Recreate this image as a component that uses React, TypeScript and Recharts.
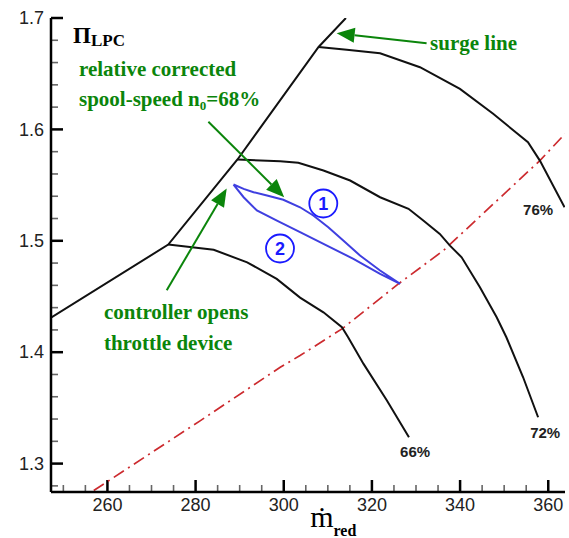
import React from 'react';
import { LineChart, Line, XAxis, YAxis, ReferenceDot, ReferenceLine } from 'recharts';

// ---------- data ----------
const surgeLine = [
  { x: 247.2, y: 1.431 },
  { x: 273.8, y: 1.4966 },
  { x: 289.5, y: 1.573 },
  { x: 307.9, y: 1.674 },
  { x: 314.1, y: 1.7 },
];

const speed66 = [
  { x: 273.8, y: 1.4966 },
  { x: 284.1, y: 1.4919 },
  { x: 291.7, y: 1.4807 },
  { x: 298.4, y: 1.4658 },
  { x: 303.7, y: 1.449 },
  { x: 309.0, y: 1.4358 },
  { x: 313.2, y: 1.4224 },
  { x: 314.6, y: 1.4135 },
  { x: 318.1, y: 1.3895 },
  { x: 323.4, y: 1.3566 },
  { x: 328.4, y: 1.3236 },
];

const speed72 = [
  { x: 289.5, y: 1.573 },
  { x: 299.2, y: 1.5714 },
  { x: 303.3, y: 1.57 },
  { x: 309.0, y: 1.5631 },
  { x: 315.05, y: 1.5541 },
  { x: 321.85, y: 1.5391 },
  { x: 328.3, y: 1.5287 },
  { x: 331.65, y: 1.5182 },
  { x: 335.4, y: 1.5062 },
  { x: 337.7, y: 1.4957 },
  { x: 340.35, y: 1.4852 },
  { x: 344.5, y: 1.4583 },
  { x: 348.3, y: 1.4314 },
  { x: 350.5, y: 1.4134 },
  { x: 354.3, y: 1.3775 },
  { x: 357.7, y: 1.3416 },
];

const speed76 = [
  { x: 307.9, y: 1.674 },
  { x: 314.3, y: 1.6714 },
  { x: 321.85, y: 1.6684 },
  { x: 330.9, y: 1.6558 },
  { x: 339.97, y: 1.6364 },
  { x: 347.5, y: 1.614 },
  { x: 355.4, y: 1.5885 },
  { x: 358.1, y: 1.572 },
  { x: 363.7, y: 1.5301 },
];

const operatingLine = [
  { x: 256.9, y: 1.2758 },
  { x: 281.1, y: 1.3386 },
  { x: 299.2, y: 1.3865 },
  { x: 303.7, y: 1.397 },
  { x: 313.2, y: 1.4209 },
  { x: 326.0, y: 1.4613 },
  { x: 336.2, y: 1.4912 },
  { x: 358.1, y: 1.572 },
  { x: 363.8, y: 1.596 },
];

const transientLoop = [
  { x: 288.6, y: 1.5505 },
  { x: 290.9, y: 1.5466 },
  { x: 293.15, y: 1.5436 },
  { x: 296.2, y: 1.5406 },
  { x: 299.9, y: 1.5368 },
  { x: 303.7, y: 1.5301 },
  { x: 306.7, y: 1.5227 },
  { x: 310.1, y: 1.5122 },
  { x: 313.5, y: 1.5002 },
  { x: 317.3, y: 1.4868 },
  { x: 321.85, y: 1.4733 },
  { x: 326.4, y: 1.4613 },
  { x: 321.85, y: 1.4703 },
  { x: 315.8, y: 1.4838 },
  { x: 309.8, y: 1.4957 },
  { x: 303.7, y: 1.5077 },
  { x: 298.45, y: 1.5182 },
  { x: 293.9, y: 1.5272 },
  { x: 290.9, y: 1.5391 },
  { x: 288.6, y: 1.5505 },
];

const xMajorTicks = [260, 280, 300, 320, 340, 360];
const xMinorTicks = [250, 255, 265, 270, 275, 285, 290, 295, 305, 310, 315, 325, 330, 335, 345, 350, 355];
const yMajorTicks = [1.3, 1.4, 1.5, 1.6, 1.7];
const yMinorTicks = [1.28, 1.32, 1.34, 1.36, 1.38, 1.42, 1.44, 1.46, 1.48, 1.52, 1.54, 1.56, 1.58, 1.62, 1.64, 1.66, 1.68];

const speedLabels = [
  { x: 329.8, y: 1.311, text: '66%' },
  { x: 359.3, y: 1.328, text: '72%' },
  { x: 357.7, y: 1.5275, text: '76%' },
];

const circledLabels = [
  { x: 308.97, y: 1.5335, text: '1' },
  { x: 299.15, y: 1.4931, text: '2' },
];

const arrows = [
  { from: { x: 332.4, y: 1.6773 }, to: { x: 312.0, y: 1.6863 } },
  { from: { x: 282.9, y: 1.6068 }, to: { x: 300.1, y: 1.5392 } },
  { from: { x: 273.45, y: 1.4556 }, to: { x: 287.06, y: 1.547 } },
];

const greenTexts = [
  { x: 253.55, y: 1.6479, text: 'relative corrected' },
  { x: 333.2, y: 1.6712, text: 'surge line' },
  { x: 259.2, y: 1.4296, text: 'controller opens' },
  { x: 259.2, y: 1.4017, text: 'throttle device' },
];

const spoolText = { x: 253.55, y: 1.6209 };
const piLabel = { x: 252.2, y: 1.678 };
const xTitle = { x: 306.0, y: 1.243 };

// ---------- styles ----------
const GREEN = '#0b850b';
const BLUE = '#1a1aff';
const SANS = '"Liberation Sans", Arial, sans-serif';
const SERIF = '"Liberation Serif", "Times New Roman", serif';

const isIn = (arr: number[], v: number) => arr.some((t) => Math.abs(t - v) < 1e-6);

const XLabel = (props: any) => {
  const { x, y, payload } = props;
  const v = payload.value;
  if (!isIn(xMajorTicks, v)) return <g />;
  return (
    <text x={x} y={y + 19} textAnchor="middle" fontSize={18} fontFamily={SANS} fill="#222" stroke="none">
      {v}
    </text>
  );
};

const YLabel = (props: any) => {
  const { x, y, payload } = props;
  const v = payload.value;
  if (!isIn(yMajorTicks, v)) return <g />;
  return (
    <text x={x - 7} y={y} dy="0.35em" textAnchor="end" fontSize={18} fontFamily={SANS} fill="#222" stroke="none">
      {v.toFixed(1)}
    </text>
  );
};

// inward tick marks drawn from the reference line geometry (bottom / left end only)
const xTickShape = (major: boolean) => (p: any) => {
  const { x1, y1, y2 } = p;
  const yb = Math.max(y1, y2);
  const len = major ? 12 : 7;
  return <line x1={x1} x2={x1} y1={yb} y2={yb - len} stroke={major ? '#000' : '#666'} strokeWidth={major ? 2.5 : 1.6} />;
};

const yTickShape = (major: boolean) => (p: any) => {
  const { x1, x2, y1 } = p;
  const xl = Math.min(x1, x2);
  const len = major ? 12 : 7;
  return <line x1={xl} x2={xl + len} y1={y1} y2={y1} stroke={major ? '#000' : '#666'} strokeWidth={major ? 2.5 : 1.6} />;
};

const arrowShape = (p: any) => {
  const { x1, y1, x2, y2 } = p;
  const ang = Math.atan2(y2 - y1, x2 - x1);
  const L = 18;
  const W = 7.5;
  const bx = x2 - L * Math.cos(ang);
  const by = y2 - L * Math.sin(ang);
  const px = -Math.sin(ang) * W;
  const py = Math.cos(ang) * W;
  return (
    <g>
      <line x1={x1} y1={y1} x2={bx} y2={by} stroke={GREEN} strokeWidth={2} />
      <polygon points={`${x2},${y2} ${bx + px},${by + py} ${bx - px},${by - py}`} fill={GREEN} />
    </g>
  );
};

export default function App() {
  return (
    <div style={{ position: 'absolute', left: 0, top: 0, background: '#fff' }}>
      <LineChart width={569} height={538} margin={{ top: 18, right: 4, bottom: 0, left: 6 }}>
        <XAxis
          type="number"
          dataKey="x"
          domain={[247.2, 363.8]}
          ticks={xMajorTicks}
          interval={0}
          tickSize={0}
          tickMargin={0}
          tickLine={false}
          tick={(p: any) => <XLabel {...p} />}
          height={46}
          axisLine={{ stroke: '#000', strokeWidth: 2.5 }}
          allowDataOverflow
        />
        <YAxis
          type="number"
          dataKey="y"
          domain={[1.2745, 1.7]}
          ticks={yMajorTicks}
          interval={0}
          tickSize={0}
          tickMargin={0}
          tickLine={false}
          tick={(p: any) => <YLabel {...p} />}
          width={45}
          axisLine={{ stroke: '#000', strokeWidth: 2.5 }}
          allowDataOverflow
        />

        {xMinorTicks.map((v) => (
          <ReferenceLine key={'xm' + v} x={v} ifOverflow="visible" shape={xTickShape(false)} />
        ))}
        {xMajorTicks.map((v) => (
          <ReferenceLine key={'xM' + v} x={v} ifOverflow="visible" shape={xTickShape(true)} />
        ))}
        {yMinorTicks.map((v) => (
          <ReferenceLine key={'ym' + v} y={v} ifOverflow="visible" shape={yTickShape(false)} />
        ))}
        {yMajorTicks.map((v) => (
          <ReferenceLine key={'yM' + v} y={v} ifOverflow="visible" shape={yTickShape(true)} />
        ))}

        <Line data={operatingLine} dataKey="y" type="linear" stroke="#cc2a2e" strokeWidth={1.7} strokeDasharray="12 5 2 5" dot={false} isAnimationActive={false} />
        <Line data={surgeLine} dataKey="y" type="linear" stroke="#111" strokeWidth={2} dot={false} isAnimationActive={false} />
        <Line data={speed66} dataKey="y" type="linear" stroke="#111" strokeWidth={2} dot={false} isAnimationActive={false} />
        <Line data={speed72} dataKey="y" type="linear" stroke="#111" strokeWidth={2} dot={false} isAnimationActive={false} />
        <Line data={speed76} dataKey="y" type="linear" stroke="#111" strokeWidth={2} dot={false} isAnimationActive={false} />
        <Line data={transientLoop} dataKey="y" type="linear" stroke="#3f3fe0" strokeWidth={2} dot={false} isAnimationActive={false} />

        {arrows.map((a, i) => (
          <ReferenceLine key={'arr' + i} segment={[a.from, a.to]} ifOverflow="visible" shape={arrowShape} />
        ))}

        {speedLabels.map((l, i) => (
          <ReferenceDot
            key={'sl' + i}
            x={l.x}
            y={l.y}
            ifOverflow="visible"
            shape={(p: any) => (
              <text x={p.cx} y={p.cy} dy="0.35em" textAnchor="middle" fontSize={15} fontWeight="bold" fontFamily={SANS} fill="#222">
                {l.text}
              </text>
            )}
          />
        ))}

        {circledLabels.map((l, i) => (
          <ReferenceDot
            key={'cl' + i}
            x={l.x}
            y={l.y}
            ifOverflow="visible"
            shape={(p: any) => (
              <g>
                <circle cx={p.cx} cy={p.cy} r={14} fill="none" stroke={BLUE} strokeWidth={1.8} />
                <text x={p.cx} y={p.cy} dy="0.36em" textAnchor="middle" fontSize={18} fontWeight="bold" fontFamily={SANS} fill={BLUE}>
                  {l.text}
                </text>
              </g>
            )}
          />
        ))}

        {greenTexts.map((t, i) => (
          <ReferenceDot
            key={'gt' + i}
            x={t.x}
            y={t.y}
            ifOverflow="visible"
            shape={(p: any) => (
              <text x={p.cx} y={p.cy} fontSize={21} fontWeight="bold" fontFamily={SERIF} fill={GREEN}>
                {t.text}
              </text>
            )}
          />
        ))}

        <ReferenceDot
          x={spoolText.x}
          y={spoolText.y}
          ifOverflow="visible"
          shape={(p: any) => (
            <text x={p.cx} y={p.cy} fontSize={21} fontWeight="bold" fontFamily={SERIF} fill={GREEN}>
              spool-speed n
              <tspan fontSize={13} dy={4}>0</tspan>
              <tspan dy={-4}>=68%</tspan>
            </text>
          )}
        />

        <ReferenceDot
          x={piLabel.x}
          y={piLabel.y}
          ifOverflow="visible"
          shape={(p: any) => (
            <text x={p.cx} y={p.cy} fontSize={23} fontWeight="bold" fontFamily={SERIF} fill="#000">
              Π
              <tspan fontSize={17} dy={3}>LPC</tspan>
            </text>
          )}
        />

        <ReferenceDot
          x={xTitle.x}
          y={xTitle.y}
          ifOverflow="visible"
          shape={(p: any) => (
            <text x={p.cx} y={p.cy} fontSize={30} fontFamily={SERIF} fill="#000">
              ṁ
              <tspan fontSize={16} fontWeight="bold" dy={9}>red</tspan>
            </text>
          )}
        />
      </LineChart>
    </div>
  );
}
